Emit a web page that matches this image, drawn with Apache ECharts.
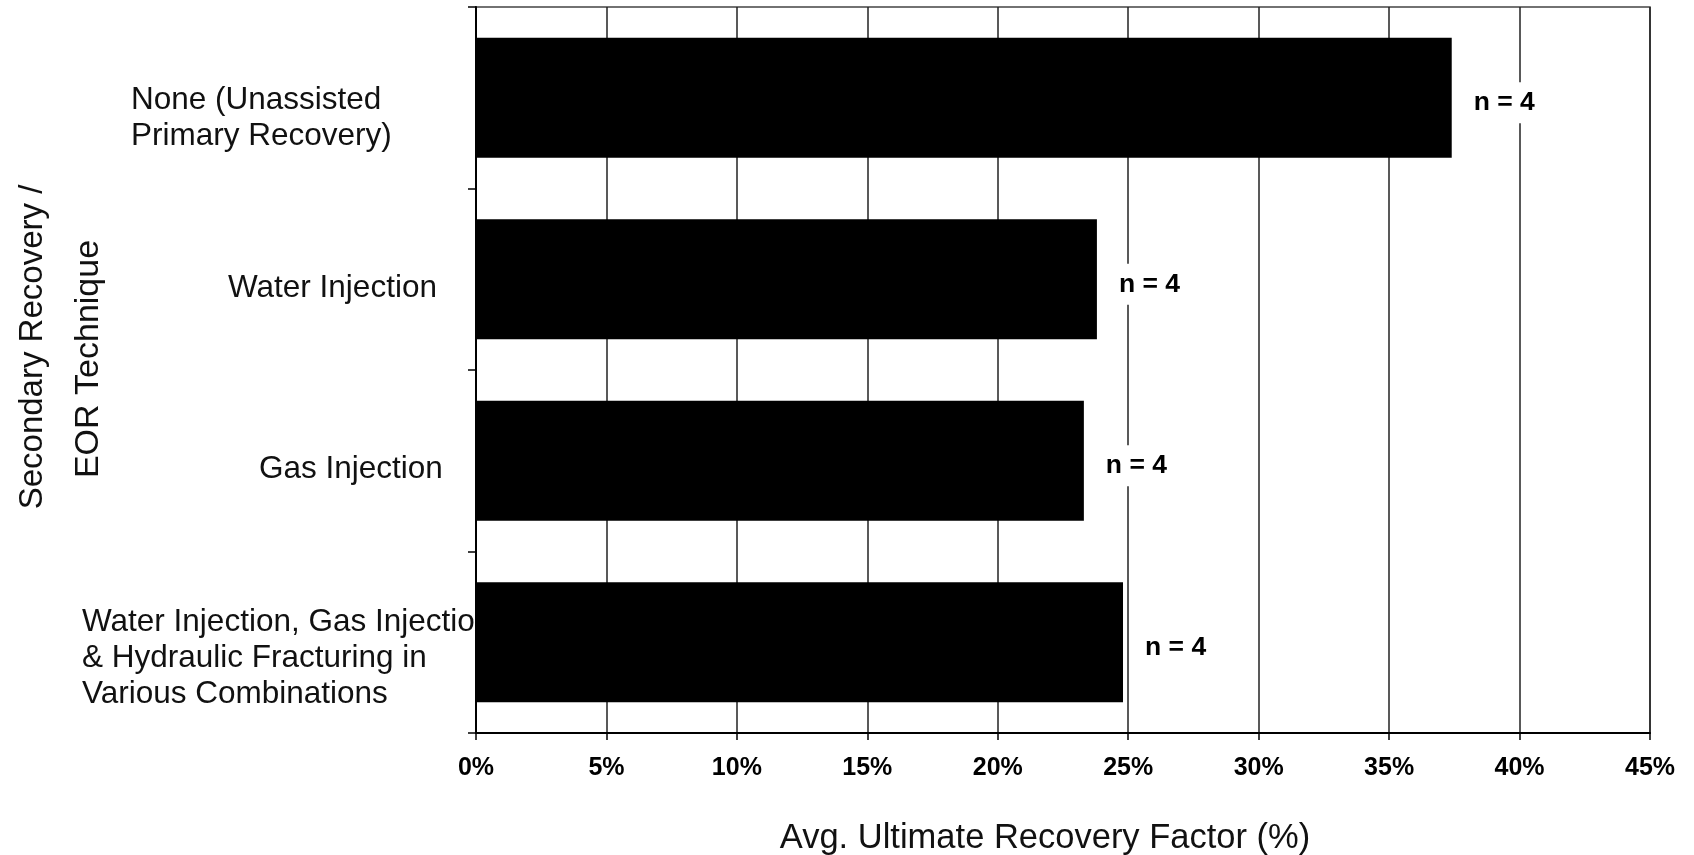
<!DOCTYPE html>
<html>
<head>
<meta charset="utf-8">
<title>Avg. Ultimate Recovery Factor by Technique</title>
<script src="https://cdn.jsdelivr.net/npm/echarts@6/dist/echarts.min.js"></script>
<style>
  html, body { margin: 0; padding: 0; background: #fff; }
  #main { width: 1694px; height: 855px; }
</style>
</head>
<body>
<div id="main"></div>
<script>
// values
var techniques = [
  'None (Unassisted\nPrimary Recovery)',
  'Water Injection',
  'Gas Injection',
  'Water Injection, Gas Injection\n& Hydraulic Fracturing in\nVarious Combinations'
];
var recoveryFactor = [37.4, 23.8, 23.3, 24.8];
var sampleCount = [4, 4, 4, 4];
var xAxisTitle = 'Avg. Ultimate Recovery Factor (%)';
var yAxisTitle = ['Secondary Recovery /', 'EOR Technique'];

var FONT = 'Arial, "Liberation Sans", sans-serif';
var LABEL_LH = 36;

// per-label nudge [drop below band centre, padLeft] so labels sit like the original text boxes
var labelNudge = [[21, 49], [9, 146], [9, 177], [16, 0]];

var catData = techniques.map(function (t, i) {
    var lines = t.split('\n').length;
    // top-anchored text block, moved so its centre lands at band centre + drop
    var top = labelNudge[i][0] - lines * LABEL_LH / 2;
    return {
        value: t,
        textStyle: {
            align: 'left',
            verticalAlign: 'top',
            padding: [top, 0, 0, labelNudge[i][1]]
        }
    };
});

var chart = echarts.init(document.getElementById('main'));

var option = {
    animation: false,
    backgroundColor: '#fff',
    textStyle: { fontFamily: FONT },
    grid: {
        left: 476,
        right: 44,
        top: 7,
        bottom: 122,
        show: true,
        borderColor: '#444',
        borderWidth: 1.5,
        outerBoundsMode: 'none'
    },
    xAxis: {
        type: 'value',
        min: 0,
        max: 45,
        interval: 5,
        name: xAxisTitle,
        nameLocation: 'middle',
        nameGap: 88,
        nameTextStyle: {
            fontFamily: FONT,
            fontSize: 34.5,
            color: '#111',
            padding: [0, 36, 0, 0]
        },
        axisLine: { show: true, lineStyle: { color: '#000', width: 2 } },
        axisTick: { show: true, length: 7, lineStyle: { color: '#000', width: 1.5 } },
        axisLabel: {
            formatter: '{value}%',
            fontFamily: FONT,
            fontSize: 25,
            fontWeight: 'bold',
            color: '#000',
            margin: 23
        },
        splitLine: { show: true, lineStyle: { color: '#222', width: 1.5 } }
    },
    yAxis: {
        type: 'category',
        inverse: true,
        data: catData,
        axisLine: { show: true, lineStyle: { color: '#000', width: 2 } },
        axisTick: { show: true, length: 8, lineStyle: { color: '#000', width: 1.5 } },
        axisLabel: {
            interval: 0,
            align: 'left',
            margin: 394,
            fontFamily: FONT,
            fontSize: 31.5,
            lineHeight: LABEL_LH,
            color: '#111'
        },
        splitLine: { show: false }
    },
    series: [{
        type: 'bar',
        data: recoveryFactor,
        barWidth: '66%',
        itemStyle: { color: '#000' },
        label: {
            show: true,
            position: 'right',
            distance: 18,
            offset: [0, 5],
            formatter: function (p) { return 'n = ' + sampleCount[p.dataIndex]; },
            fontFamily: FONT,
            fontSize: 26.5,
            fontWeight: 'bold',
            color: '#000',
            backgroundColor: '#fff',
            padding: [8, 4, 6, 4]
        }
    }],
    graphic: [
        {
            type: 'text',
            x: 33, y: 347,
            rotation: Math.PI / 2,
            style: {
                text: yAxisTitle[0],
                font: '33px ' + FONT,
                fill: '#111',
                align: 'center',
                verticalAlign: 'middle'
            }
        },
        {
            type: 'text',
            x: 89, y: 359,
            rotation: Math.PI / 2,
            style: {
                text: yAxisTitle[1],
                font: '34px ' + FONT,
                fill: '#111',
                align: 'center',
                verticalAlign: 'middle'
            }
        }
    ]
};

chart.setOption(option);
</script>
</body>
</html>
